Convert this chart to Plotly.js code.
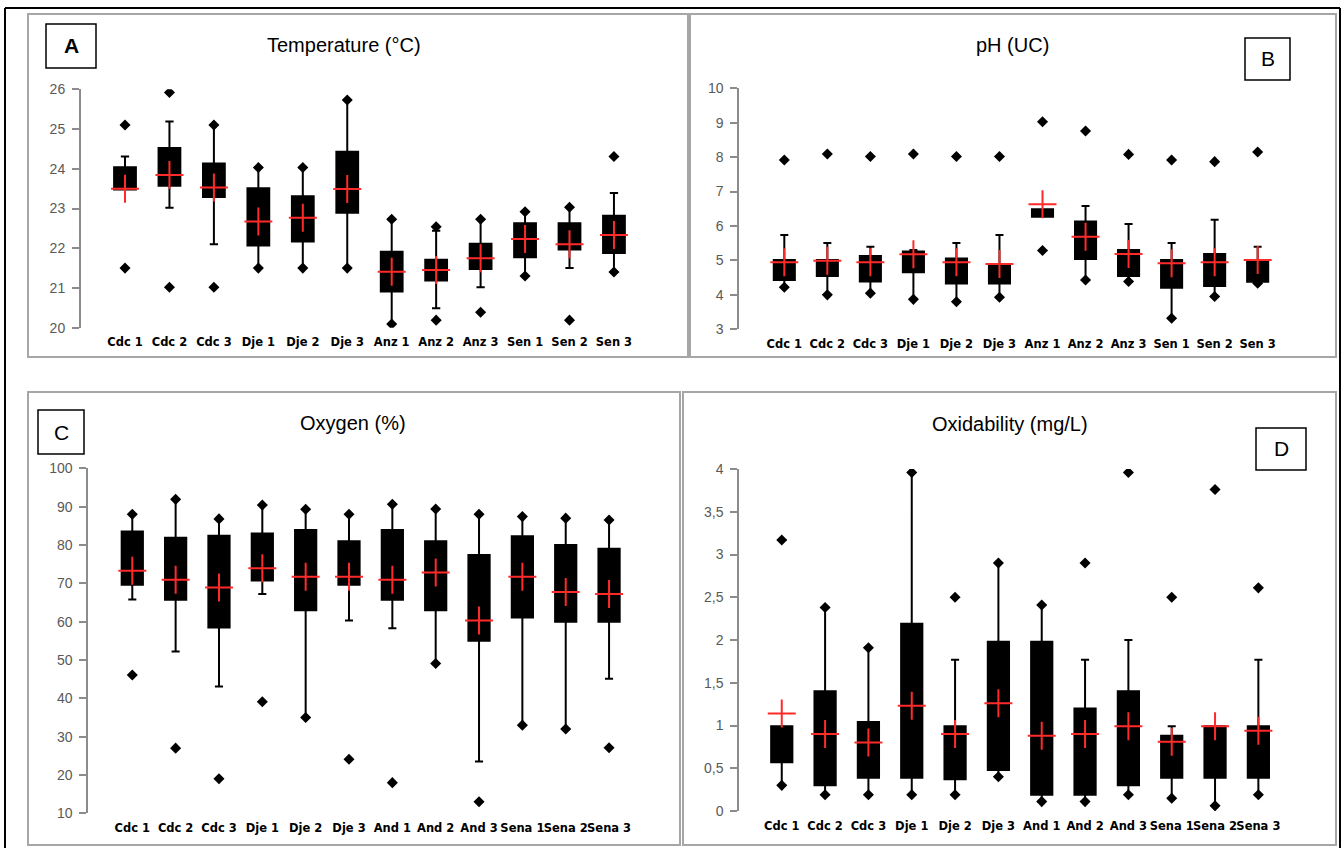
<!DOCTYPE html>
<html>
<head>
<meta charset="utf-8">
<script src="https://cdn.plot.ly/plotly-3.0.1.min.js"></script>
<style>html,body{margin:0;padding:0;background:#fff;}#chart{width:1343px;height:848px;}</style>
</head>
<body>
<div id="chart"></div>
<script>
// ---------- categories ----------
const catsAB = ["Cdc 1","Cdc 2","Cdc 3","Dje 1","Dje 2","Dje 3","Anz 1","Anz 2","Anz 3","Sen 1","Sen 2","Sen 3"];
const catsCD = ["Cdc 1","Cdc 2","Cdc 3","Dje 1","Dje 2","Dje 3","And 1","And 2","And 3","Sena 1","Sena 2","Sena 3"];

// ---------- A: Temperature ----------
const tempMin   = [21.50,21.02,21.02,21.50,21.50,21.50,20.09,20.19,20.39,21.30,20.19,21.40];
const tempLow   = [23.48,23.02,22.10,21.50,21.50,21.50,20.09,20.49,21.02,21.30,21.50,21.40];
const tempQ1    = [23.48,23.57,23.29,22.07,22.17,22.89,20.91,21.19,21.48,21.77,21.97,21.88];
const tempMed   = [23.50,23.84,23.53,22.67,22.77,23.49,21.41,21.45,21.75,22.23,22.10,22.33];
const tempQ3    = [24.04,24.52,24.13,23.51,23.31,24.43,21.91,21.71,22.11,22.63,22.63,22.82];
const tempHigh  = [24.31,25.19,25.10,24.03,24.03,25.73,22.73,22.44,22.73,22.92,23.03,23.39];
const tempMax   = [25.10,25.92,25.10,24.03,24.03,25.73,22.73,22.54,22.73,22.92,23.03,24.31];
const tempMean  = [23.50,23.84,23.53,22.67,22.77,23.49,21.41,21.45,21.75,22.23,22.10,22.33];

// ---------- B: pH ----------
const phMin   = [4.22,4.00,4.05,3.87,3.80,3.93,5.29,4.43,4.39,3.32,3.95,4.34];
const phLow   = [4.22,4.00,4.05,3.87,3.80,3.93,6.27,4.43,4.39,3.32,3.95,4.34];
const phQ1    = [4.43,4.55,4.39,4.66,4.33,4.33,6.27,5.04,4.55,4.21,4.26,4.38];
const phMed   = [4.95,4.99,4.95,5.18,4.95,4.60,6.40,5.69,5.19,4.92,4.95,4.70];
const phQ3    = [5.01,5.01,5.13,5.26,5.06,4.90,6.49,6.13,5.30,5.01,5.19,5.01];
const phHigh  = [5.74,5.51,5.40,5.30,5.51,5.74,6.49,6.58,6.06,5.51,6.18,5.40];
const phMax   = [7.92,8.09,8.02,8.09,8.02,8.02,9.03,8.76,8.08,7.92,7.87,8.15];
const phMean  = [4.95,4.99,4.95,5.18,4.95,4.90,6.63,5.69,5.19,4.92,4.95,5.01];

// ---------- C: Oxygen ----------
const oxMin   = [46.1,27.0,19.0,39.1,35.0,24.1,18.0,49.1,13.0,33.0,32.0,27.1];
const oxLow   = [65.8,52.2,43.1,67.2,35.0,60.3,58.3,49.1,23.5,33.0,32.0,45.1];
const oxQ1    = [69.6,65.7,58.5,70.7,63.0,69.6,65.7,63.0,55.0,61.1,60.0,60.0];
const oxMed   = [73.3,70.9,68.9,73.9,71.7,71.7,70.9,72.8,60.3,71.7,67.7,67.2];
const oxQ3    = [83.5,81.9,82.4,83.0,83.9,81.0,83.9,81.0,77.4,82.3,80.0,79.0];
const oxHigh  = [88.0,91.9,86.8,90.4,89.3,88.0,90.6,89.4,88.0,87.4,87.0,86.5];
const oxMax   = [88.0,91.9,86.8,90.4,89.3,88.0,90.6,89.4,88.0,87.4,87.0,86.5];
const oxMean  = [73.3,70.9,68.9,73.9,71.7,71.7,70.9,72.8,60.3,71.7,67.7,67.2];

// ---------- D: Oxidability ----------
const odMin   = [0.30,0.19,0.19,0.19,0.19,0.40,0.11,0.11,0.19,0.15,0.06,0.19];
const odLow   = [0.30,0.19,0.19,0.19,0.19,0.40,0.11,0.11,0.19,0.15,0.06,0.19];
const odQ1    = [0.57,0.30,0.39,0.39,0.37,0.48,0.19,0.19,0.30,0.39,0.39,0.39];
const odMed   = [0.80,0.90,0.80,1.23,0.90,1.26,0.88,0.90,0.99,0.81,0.70,0.94];
const odQ3    = [0.99,1.40,1.04,2.19,0.99,1.98,1.98,1.20,1.40,0.88,0.99,0.99];
const odHigh  = [0.99,2.38,1.91,3.96,1.77,2.90,2.41,1.77,2.00,0.99,0.99,1.77];
const odMax   = [3.17,2.38,1.91,3.96,2.50,2.90,2.41,2.90,3.96,2.50,3.76,2.61];
const odMean  = [1.14,0.90,0.80,1.23,0.90,1.26,0.88,0.90,0.99,0.81,0.99,0.94];

// ---------- titles ----------
const panelTitles = ["Temperature (°C)","pH (UC)","Oxygen (%)","Oxidability (mg/L)"];
const panelLetters = ["A","B","C","D"];

// ---------- helpers ----------
const W = 1343, H = 848;
const px = v => v / W;
const py = v => 1 - v / H;

function panelTraces(cats, mn, lo, q1, med, q3, hi, mx, mean, xa, ya) {
  return [
    {type:'box', x:cats, q1:q1, median:med, q3:q3, lowerfence:lo, upperfence:hi,
     xaxis:xa, yaxis:ya, width:0.49, whiskerwidth:0.38, boxpoints:false,
     fillcolor:'#000000', line:{color:'#000000', width:2}, hoverinfo:'skip', showlegend:false},
    {type:'scatter', mode:'markers', x:cats.concat(cats), y:mn.concat(mx), xaxis:xa, yaxis:ya,
     marker:{symbol:'diamond', size:8.5, color:'#000000'}, hoverinfo:'skip', showlegend:false},
    {type:'scatter', mode:'markers', x:cats, y:mean, xaxis:xa, yaxis:ya,
     marker:{symbol:'cross-thin', size:20, color:'#ff2a2a', line:{color:'#ff2a2a', width:2}},
     hoverinfo:'skip', showlegend:false}
  ];
}

const data = []
  .concat(panelTraces(catsAB, tempMin, tempLow, tempQ1, tempMed, tempQ3, tempHigh, tempMax, tempMean, 'x', 'y'))
  .concat(panelTraces(catsAB, phMin, phLow, phQ1, phMed, phQ3, phHigh, phMax, phMean, 'x2', 'y2'))
  .concat(panelTraces(catsCD, oxMin, oxLow, oxQ1, oxMed, oxQ3, oxHigh, oxMax, oxMean, 'x3', 'y3'))
  .concat(panelTraces(catsCD, odMin, odLow, odQ1, odMed, odQ3, odHigh, odMax, odMean, 'x4', 'y4'));

function xAxis(dom, rng, anchor) {
  return {domain:dom, range:rng, anchor:anchor, type:'category', showline:false, showgrid:false,
    zeroline:false, ticks:'', tickangle:0, ticklabelstandoff:6,
    tickfont:{family:'DejaVu Sans, Liberation Sans, sans-serif', size:11.5, color:'#000', weight:'bold'},
    fixedrange:true};
}
function yAxis(dom, rng, dtick, anchor) {
  return {domain:dom, range:rng, anchor:anchor, dtick:dtick, showline:true, linecolor:'#8c8c8c', linewidth:2,
    ticks:'outside', ticklen:7, tickwidth:2, tickcolor:'#8c8c8c', showgrid:false, zeroline:false,
    ticklabelstandoff:4,
    tickfont:{family:'Liberation Sans, Arial, sans-serif', size:14, color:'#595959'}, fixedrange:true};
}

const titleFont = {family:'Liberation Sans, Arial, sans-serif', size:20, color:'#000'};
const letterFont = {family:'Liberation Sans, Arial, sans-serif', size:21, color:'#000'};

const frameColor = '#a6a6a6';
function rectPx(x0,y0,x1,y1,color,w){
  return {type:'rect', xref:'paper', yref:'paper', x0:px(x0), x1:px(x1), y0:py(y1), y1:py(y0),
    line:{color:color, width:w}, fillcolor:'rgba(0,0,0,0)', layer:'below'};
}
function linePx(x0,y0,x1,y1,color,w){
  return {type:'line', xref:'paper', yref:'paper', x0:px(x0), x1:px(x1), y0:py(y0), y1:py(y1),
    line:{color:color, width:w}};
}

const shapes = [
  // outer black frame
  linePx(5,8,1340,8,'#000',2),
  linePx(5,8,5,848,'#000',2),
  linePx(1340,8,1340,848,'#000',2),
  // panel frames
  rectPx(28,14,688,357,frameColor,2),
  rectPx(690,14,1336,357,frameColor,2),
  rectPx(28,392,680,845,frameColor,2),
  rectPx(683,392,1336,845,frameColor,2),
  // letter boxes
  rectPx(46,24,96,68,'#000',1.5),
  rectPx(1245,38,1290,80,'#000',1.5),
  rectPx(38,410,84,454,'#000',1.5),
  rectPx(1256,428,1306,470,'#000',1.5)
];

function ann(text, x, y, font) {
  return {text:text, xref:'paper', yref:'paper', x:px(x), y:py(y), xanchor:'center', yanchor:'middle',
    showarrow:false, font:font};
}

const annotations = [
  ann(panelTitles[0], 344, 45, titleFont),
  ann(panelTitles[1], 1012, 45, titleFont),
  ann(panelTitles[2], 353, 423, titleFont),
  ann(panelTitles[3], 1010, 424, titleFont),
  ann('<b>'+panelLetters[0]+'</b>', 71, 46, letterFont),
  ann(panelLetters[1], 1267.5, 59, letterFont),
  ann(panelLetters[2], 61, 432, letterFont),
  ann(panelLetters[3], 1281, 449, letterFont)
];

const layout = {
  width:W, height:H, margin:{l:0,r:0,t:0,b:0}, paper_bgcolor:'#fff', plot_bgcolor:'rgba(0,0,0,0)',
  showlegend:false, boxmode:'overlay', separators:',.',
  xaxis:  xAxis([px(81), px(658.4)], [-0.99, 12], 'y'),
  yaxis:  yAxis([py(327.7), py(89.3)], [20, 26], 1, 'x'),
  xaxis2: xAxis([px(739.3), px(1300.7)], [-1.046, 12], 'y2'),
  yaxis2: yAxis([py(329.3), py(88.3)], [3, 10], 1, 'x2'),
  xaxis3: xAxis([px(88.3), px(652.4)], [-1.015, 12], 'y3'),
  yaxis3: yAxis([py(813.3), py(468.3)], [10, 100], 10, 'x3'),
  xaxis4: xAxis([px(739.3), px(1301.7)], [-0.98, 12], 'y4'),
  yaxis4: yAxis([py(811), py(469)], [0, 4], 0.5, 'x4'),
  shapes:shapes, annotations:annotations
};

Plotly.newPlot('chart', data, layout, {staticPlot:true, displayModeBar:false});
</script>
</body>
</html>
